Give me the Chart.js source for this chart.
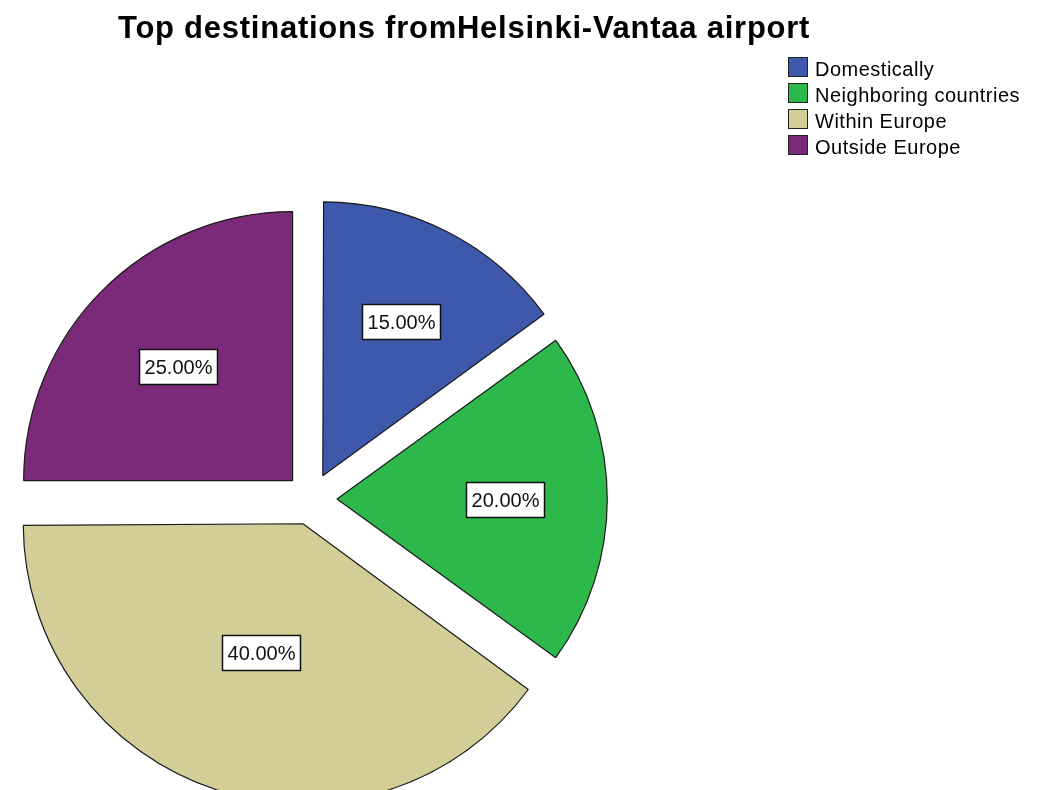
<!DOCTYPE html>
<html lang="en">

<head>
    <meta charset="UTF-8">
    <title>Top destinations from Helsinki-Vantaa airport</title>
    <style>
        * {
            margin: 0;
            padding: 0;
            box-sizing: border-box;
        }

        html,
        body {
            width: 1039px;
            height: 790px;
            overflow: hidden;
            background: #fff;
            font-family: "Liberation Sans", Arial, sans-serif;
        }

        .wrap {
            position: relative;
            width: 1039px;
            height: 790px;
        }

        canvas {
            position: absolute;
            left: 0;
            top: 0;
        }

        .title {
            position: absolute;
            left: 118px;
            top: 12px;
            font-size: 31px;
            line-height: 31px;
            font-weight: bold;
            letter-spacing: 0.75px;
            white-space: nowrap;
            color: #000;
        }

        .legend {
            position: absolute;
            left: 788px;
            top: 57px;
        }

        .legend .row {
            position: relative;
            height: 26px;
            line-height: 25px;
            font-size: 20px;
            letter-spacing: 0.5px;
            white-space: nowrap;
            padding-left: 27px;
            color: #000;
        }

        .legend .box {
            position: absolute;
            left: 0;
            top: 0;
            width: 20px;
            height: 20px;
            border: 1px solid #222;
        }
    </style>
    <script src="https://cdn.jsdelivr.net/npm/chart.js"></script>
</head>

<body>
    <div class="wrap">
        <canvas id="pieChart" width="1039" height="790"></canvas>
        <div class="title" id="title">Top destinations fromHelsinki-Vantaa airport</div>
        <div class="legend" id="legend"></div>
    </div>

    <script>
        const categories = ['Domestically', 'Neighboring countries', 'Within Europe', 'Outside Europe'];
        const shares = [15, 20, 40, 25];
        const sliceColors = ['#3E58AC', '#2DB84B', '#D3CE97', '#7B2A7A'];

        // legend built from the same arrays
        const legendEl = document.getElementById('legend');
        categories.forEach((name, i) => {
            const row = document.createElement('div');
            row.className = 'row';
            const box = document.createElement('span');
            box.className = 'box';
            box.style.background = sliceColors[i];
            row.appendChild(box);
            row.appendChild(document.createTextNode(name));
            legendEl.appendChild(row);
        });

        // percentage boxes placed at each slice's centroid
        const pctLabels = {
            id: 'pctLabels',
            afterDatasetsDraw(chart) {
                const ctx = chart.ctx;
                const meta = chart.getDatasetMeta(0);
                ctx.save();
                ctx.font = '20px "Liberation Sans", Arial, sans-serif';
                ctx.textAlign = 'center';
                ctx.textBaseline = 'middle';
                meta.data.forEach((arc, i) => {
                    const p = arc.getProps(['x', 'y', 'startAngle', 'endAngle', 'outerRadius'], true);
                    const mid = (p.startAngle + p.endAngle) / 2;
                    const sweep = p.endAngle - p.startAngle;
                    const shift = (arc.options.offset || 0) / 4;
                    const dist = shift + 2 * p.outerRadius * Math.sin(sweep / 2) / (1.5 * sweep);
                    const lx = p.x + Math.cos(mid) * dist;
                    const ly = p.y + Math.sin(mid) * dist;
                    const text = shares[i].toFixed(2) + '%';
                    const w = Math.round(ctx.measureText(text).width + 10);
                    const h = 35;
                    const bx = Math.round(lx - w / 2) + 0.5;
                    const by = Math.round(ly - h / 2) + 0.5;
                    ctx.fillStyle = '#fff';
                    ctx.fillRect(bx, by, w, h);
                    ctx.strokeStyle = '#111';
                    ctx.lineWidth = 1.5;
                    ctx.strokeRect(bx, by, w, h);
                    ctx.fillStyle = '#111';
                    ctx.fillText(text, bx + w / 2, by + h / 2 + 1);
                });
                ctx.restore();
            }
        };

        const ctx = document.getElementById('pieChart').getContext('2d');
        new Chart(ctx, {
            type: 'pie',
            data: {
                labels: categories,
                datasets: [{
                    data: shares,
                    backgroundColor: sliceColors,
                    borderColor: '#1a1a1a',
                    borderWidth: 1.2,
                    offset: 104,
                    hoverOffset: 0
                }]
            },
            options: {
                responsive: false,
                animation: false,
                events: [],
                radius: 269,
                layout: {
                    padding: { left: 0, right: 417, top: 208, bottom: 0 }
                },
                plugins: {
                    legend: { display: false },
                    title: { display: false },
                    tooltip: { enabled: false }
                }
            },
            plugins: [pctLabels]
        });
    </script>
</body>

</html>
